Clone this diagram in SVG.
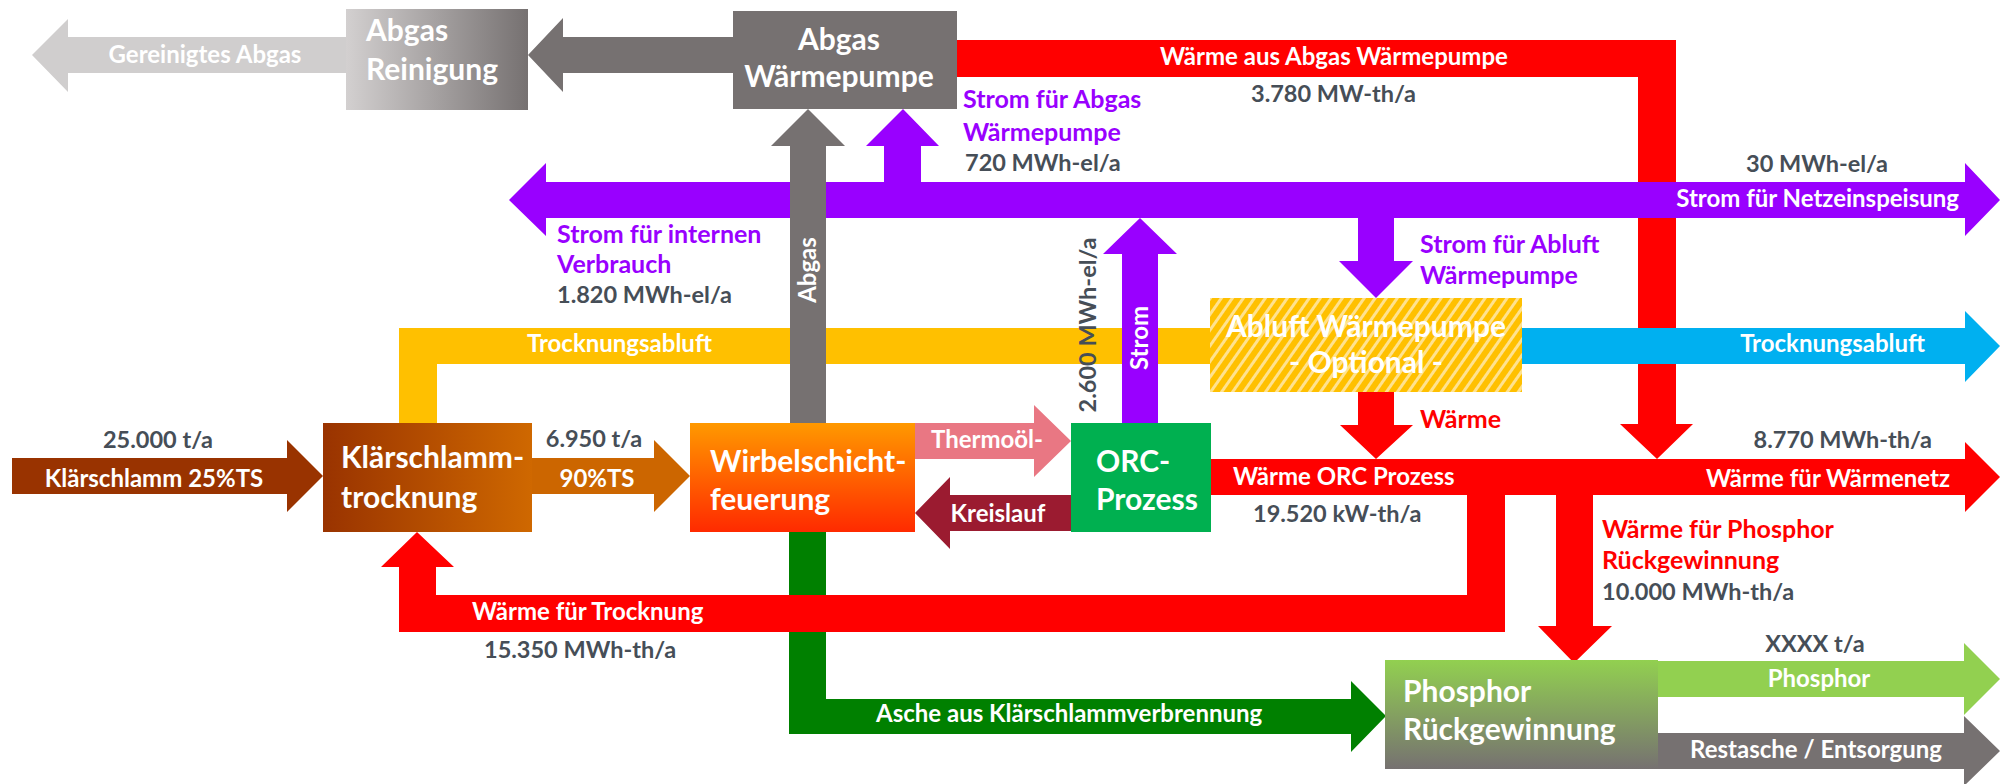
<svg xmlns="http://www.w3.org/2000/svg" width="2004" height="784" viewBox="0 0 2004 784">
<defs>
<style>
text{font-family:Lato,"Open Sans","Liberation Sans",sans-serif;font-weight:bold}
.l{font-size:24px;fill:#fff}
.v{font-size:23.5px;fill:#464e57}
.p{font-size:25px;fill:#9900ff}
.r{font-size:25px;fill:#ff0000}
.t{font-size:30px;fill:#fff}
.m{text-anchor:middle}
.e{text-anchor:end}
</style>
<linearGradient id="gRein" x1="0" y1="0" x2="1" y2="0"><stop offset="0" stop-color="#d3d0d0"/><stop offset="1" stop-color="#767171"/></linearGradient>
<linearGradient id="gKl" x1="0" y1="0" x2="1" y2="0"><stop offset="0" stop-color="#993300"/><stop offset="1" stop-color="#cf6800"/></linearGradient>
<linearGradient id="gWs" x1="0" y1="0" x2="0" y2="1"><stop offset="0" stop-color="#ff9900"/><stop offset="1" stop-color="#ff2a00"/></linearGradient>
<linearGradient id="gPh" x1="0" y1="0" x2="0" y2="1"><stop offset="0" stop-color="#92d050"/><stop offset="1" stop-color="#767171"/></linearGradient>
<pattern id="hatch" patternUnits="userSpaceOnUse" width="9" height="9" patternTransform="rotate(35)"><rect width="9" height="9" fill="#ffc000"/><rect width="3" height="9" fill="#ffe28f"/></pattern>
</defs>
<rect width="2004" height="784" fill="#fff"/>
<g id="connectors">
<polygon fill="#ff0000" points="957,40 1676,40 1676,424 1693,424 1657,459 1620,424 1638,424 1638,77 957,77"/>
<polygon fill="#ffc000" points="399,423 399,328 1210,328 1210,364 437,364 437,423"/>
<polygon fill="#008000" points="789,532 826,532 826,699 1351,699 1351,681 1386,716 1351,752 1351,734 789,734"/>
<polygon fill="#ff0000" points="1211,459 1965,459 1965,442 2000,477 1965,512 1965,495 1211,495"/>
<polygon fill="#ff0000" points="1467,494 1505,494 1505,632 399,632 399,567 381,567 417,532 454,567 436,567 436,595 1467,595"/>
<polygon fill="#ff0000" points="1556,494 1593,494 1593,626 1612,626 1574,663 1538,626 1556,626"/>
<polygon fill="#ff0000" points="1358,392 1394,392 1394,425 1413,425 1376,459 1340,425 1358,425"/>
<polygon fill="#d0cece" points="346,37 68,37 68,19 32,55 68,92 68,73 346,73"/>
<polygon fill="#767171" points="733,37 563,37 563,18 528,55 563,92 563,73 733,73"/>
<polygon fill="#9900ff" points="509,200 546,163 546,182 1965,182 1965,163 2000,200 1965,236 1965,218 546,218 546,236"/>
<polygon fill="#767171" points="790,423 790,146 771,146 808,109 845,146 826,146 826,423"/>
<polygon fill="#9900ff" points="884,182 884,146 866,146 903,109 939,146 921,146 921,182"/>
<polygon fill="#9900ff" points="1122,423 1122,254 1103,254 1140,218 1177,254 1158,254 1158,423"/>
<polygon fill="#9900ff" points="1358,218 1394,218 1394,261 1413,261 1376,298 1339,261 1358,261"/>
<polygon fill="#00b0f0" points="1522,328 1965,328 1965,311 2000,346 1965,382 1965,364 1522,364"/>
<polygon fill="#993300" points="12,458 287,458 287,440 323,476 287,512 287,494 12,494"/>
<polygon fill="#cc6600" points="532,458 654,458 654,440 690,476 654,512 654,494 532,494"/>
<polygon fill="#e97783" points="915,423 1034,423 1034,405 1071,441 1034,477 1034,459 915,459"/>
<polygon fill="#9b1b30" points="1071,495 950,495 950,477 915,513 950,549 950,531 1071,531"/>
<polygon fill="#92d050" points="1658,661 1964,661 1964,643 2000,679 1964,715 1964,697 1658,697"/>
<polygon fill="#767171" points="1658,733 1964,733 1964,716 2000,751 1964,786 1964,769 1658,769"/>
<text class="l m" x="205" y="63">Gereinigtes Abgas</text>
<text class="l m" x="1334" y="65">Wärme aus Abgas Wärmepumpe</text>
<text class="v" x="1251" y="102">3.780 MW-th/a</text>
<text class="p" x="963" y="108">Strom für Abgas</text>
<text class="p" x="963" y="141">Wärmepumpe</text>
<text class="v" x="965" y="171">720 MWh-el/a</text>
<text class="v m" x="1817" y="172">30 MWh-el/a</text>
<text class="l e" x="1959" y="207">Strom für Netzeinspeisung</text>
<text class="p" x="557" y="243">Strom für internen</text>
<text class="p" x="557" y="273">Verbrauch</text>
<text class="v" x="557" y="303">1.820 MWh-el/a</text>
<text class="p" x="1420" y="253">Strom für Abluft</text>
<text class="p" x="1420" y="284">Wärmepumpe</text>
<text class="l" x="527" y="352">Trocknungsabluft</text>
<text class="l m" transform="translate(816,270) rotate(-90)">Abgas</text>
<text class="v m" transform="translate(1096,325) rotate(-90)">2.600 MWh-el/a</text>
<text class="l m" transform="translate(1148,338) rotate(-90)">Strom</text>
<text class="l e" x="1925" y="352">Trocknungsabluft</text>
<text class="v m" x="158" y="448">25.000 t/a</text>
<text class="l m" x="154" y="487">Klärschlamm 25%TS</text>
<text class="v m" x="594" y="447">6.950 t/a</text>
<text class="l m" x="597" y="487">90%TS</text>
<text class="l m" x="987" y="448">Thermoöl-</text>
<text class="l m" x="998" y="522">Kreislauf</text>
<text class="r" x="1420" y="428">Wärme</text>
<text class="v e" x="1932" y="448">8.770 MWh-th/a</text>
<text class="l" x="1233" y="485">Wärme ORC Prozess</text>
<text class="l e" x="1950" y="487">Wärme für Wärmenetz</text>
<text class="v" x="1253" y="522">19.520 kW-th/a</text>
<text class="r" x="1602" y="538">Wärme für Phosphor</text>
<text class="r" x="1602" y="569">Rückgewinnung</text>
<text class="v" x="1602" y="600">10.000 MWh-th/a</text>
<text class="l" x="472" y="620">Wärme für Trocknung</text>
<text class="v" x="484" y="658">15.350 MWh-th/a</text>
<text class="l" x="876" y="722">Asche aus Klärschlammverbrennung</text>
<text class="v m" x="1815" y="652">XXXX t/a</text>
<text class="l m" x="1819" y="687">Phosphor</text>
<text class="l m" x="1816" y="758">Restasche / Entsorgung</text>
</g>
<g id="abgas-reinigung">
<rect x="346" y="9" width="182" height="101" fill="url(#gRein)"/>
<text class="t" x="366" y="41">Abgas</text>
<text class="t" x="366" y="80">Reinigung</text>
</g>
<g id="abgas-waermepumpe">
<rect x="733" y="11" width="224" height="98" fill="#767171"/>
<text class="t m" x="839" y="50">Abgas</text>
<text class="t m" x="839" y="87">Wärmepumpe</text>
</g>
<g id="klaerschlammtrocknung">
<rect x="323" y="423" width="209" height="109" fill="url(#gKl)"/>
<text class="t" x="341" y="468">Klärschlamm-</text>
<text class="t" x="341" y="508">trocknung</text>
</g>
<g id="wirbelschichtfeuerung">
<rect x="690" y="423" width="225" height="109" fill="url(#gWs)"/>
<text class="t" x="710" y="472">Wirbelschicht-</text>
<text class="t" x="710" y="510">feuerung</text>
</g>
<g id="orc-prozess">
<rect x="1071" y="423" width="140" height="109" fill="#00b050"/>
<text class="t" x="1096" y="472">ORC-</text>
<text class="t" x="1096" y="510">Prozess</text>
</g>
<g id="abluft-waermepumpe">
<rect x="1210" y="298" width="312" height="94" fill="url(#hatch)"/>
<text class="t m" x="1366" y="337">Abluft Wärmepumpe</text>
<text class="t m" x="1366" y="373">- Optional -</text>
</g>
<g id="phosphor-rueckgewinnung">
<rect x="1385" y="660" width="273" height="109" fill="url(#gPh)"/>
<text class="t" x="1403" y="702">Phosphor</text>
<text class="t" x="1403" y="740">Rückgewinnung</text>
</g>
</svg>
